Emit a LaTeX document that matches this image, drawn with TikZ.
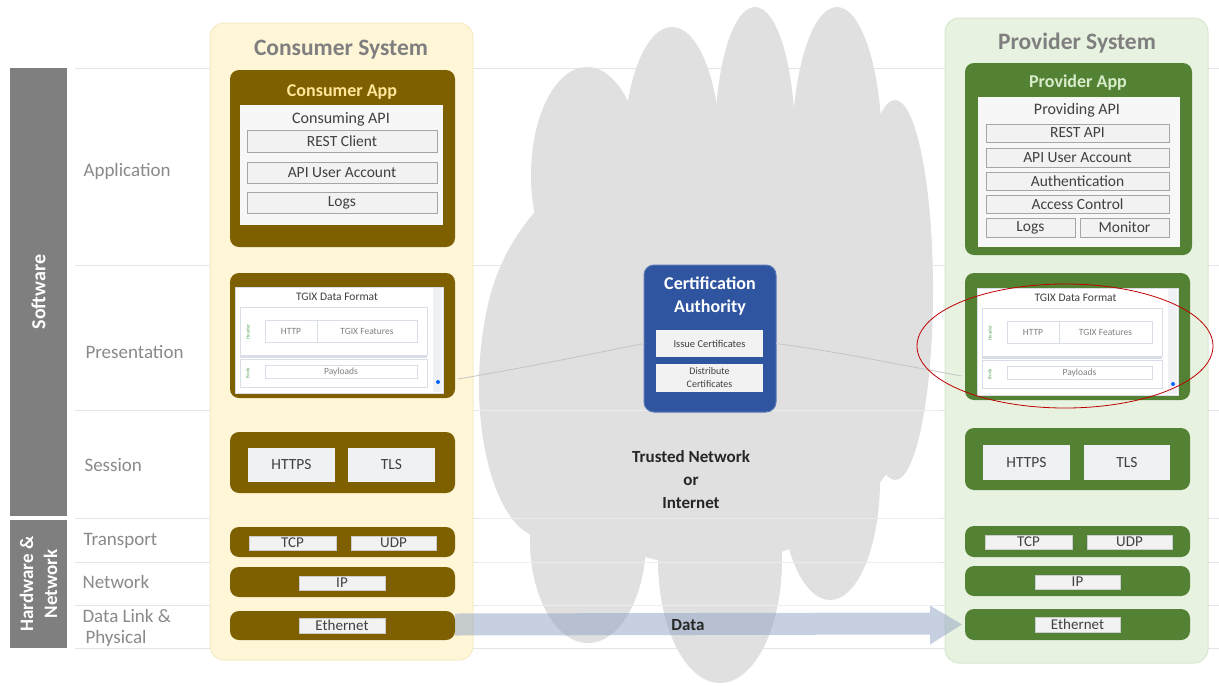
\documentclass[tikz,border=0pt]{standalone}
\usepackage{fontspec}
\setmainfont{Carlito}
\usetikzlibrary{calc}
\definecolor{cbrown}{HTML}{7F6000}
\definecolor{cgreen}{HTML}{548235}
\definecolor{cyellowbg}{HTML}{FFF6D8}
\definecolor{cyellowbd}{HTML}{F6EBC6}
\definecolor{cgreenbg}{HTML}{E8F2E0}
\definecolor{cgreenbd}{HTML}{DAE7D0}
\definecolor{cblue}{HTML}{2F55A0}
\definecolor{cgraybar}{HTML}{7F7F7F}
\definecolor{clabel}{HTML}{8A8A8A}
\definecolor{ctitle}{HTML}{7F7F7F}
\definecolor{cline}{HTML}{E2E6EB}
\definecolor{ccloud}{HTML}{E0E0E0}
\definecolor{cinner}{HTML}{F7F7F7}
\definecolor{citem}{HTML}{F2F2F2}
\definecolor{citemdraw}{HTML}{A6A6A6}
\definecolor{csess}{HTML}{EFF1F5}
\definecolor{carrow}{HTML}{8FA2C4}
\definecolor{ctitleY}{HTML}{FFE699}
\definecolor{ctitleG}{HTML}{D8EBCB}
\definecolor{ctext}{HTML}{404040}
\definecolor{cshot}{HTML}{D9DDE8}
\definecolor{cconn}{HTML}{C4C4C4}
\newcommand\fs[2]{\fontsize{#1}{#2}\selectfont}
% box from corners: name, style, x1, y1, x2, y2, text
\newcommand\bx[7]{\node[#2, inner sep=0pt, outer sep=0pt,
  minimum width={(#5-(#3))*1pt}, minimum height={(#6-(#4))*1pt}]
  (#1) at ({(#3+#5)/2},{(#4+#6)/2}) {#7};}
\tikzset{
  appC/.style={fill=cbrown, rounded corners=9pt},
  appP/.style={fill=cgreen, rounded corners=9pt},
  item/.style={fill=citem, draw=citemdraw, line width=0.7pt, text=ctext, font=\fs{15.5}{18}},
  sessitem/.style={fill=csess, text=ctext, font=\fs{15.5}{18}},
  netitem/.style={fill=citem, draw=white!80!black, line width=0.5pt, text=ctext, font=\fs{15}{16}},
  rowlabel/.style={anchor=west, text=clabel, font=\fs{19}{22}, align=left},
  systitle/.style={text=ctitle, font=\fs{23.5}{26}\bfseries},
  shotbox/.style={draw=cshot, line width=0.6pt, text=gray, font=\fs{9.5}{11}},
  conn/.style={draw=cconn, line width=0.8pt},
}
\newcommand\tgixshot[5]{%
\begin{scope}[shift={(#2,#3)}]
  \bx{#1shot}{fill=white, draw=cshot, line width=0.5pt}{0}{0}{#4}{#5}{}
  \fill[csess] (#4-10,1) rectangle (#4-1,#5-1);
  \fill[blue!60!cyan] (#4-5,#5-11) circle [radius=2];
  \node[text=ctext, font=\fs{11.5}{13}] (#1fmt) at (#4/2-2,10) {TGIX Data Format};
  \bx{#1hdr}{draw=cshot, line width=0.6pt}{5}{20}{#4-16}{68}{}
  \node[rotate=90, text=gray!70!green, font=\fs{5}{6}] (#1hdrl) at (13,45) {Header};
  \bx{#1http}{shotbox}{30}{33}{82}{55}{HTTP}
  \bx{#1feat}{shotbox}{82}{33}{#4-26}{55}{TGIX Features}
  \draw[cshot, line width=2pt] (5,70) -- (#4-16,70);
  \bx{#1body}{draw=cshot, line width=0.6pt}{5}{72}{#4-16}{100}{}
  \node[rotate=90, text=gray!70!green, font=\fs{5}{6}] (#1bodyl) at (13,86) {Body};
  \bx{#1pay}{shotbox}{30}{78}{#4-26}{91}{Payloads}
\end{scope}}
\begin{document}
\begin{tikzpicture}[x=1pt,y=-1pt]
\useasboundingbox[fill=white] (0,0) rectangle (1219,686);

% row lines (under the cloud)
\foreach \yy in {68,265,410,518,562,605,648}
  \draw[cline, line width=1pt] (75,\yy) -- (1219,\yy);

% cloud
\begin{scope}
  \fill[ccloud] (705,350) ellipse [x radius=222, y radius=215];
  \fill[ccloud] (587,175) ellipse [x radius=56, y radius=108];
  \fill[ccloud] (672,150) ellipse [x radius=48, y radius=123];
  \fill[ccloud] (755,140) ellipse [x radius=40, y radius=133];
  \fill[ccloud] (837,150) ellipse [x radius=45, y radius=143];
  \fill[ccloud] (895,290) ellipse [x radius=38, y radius=190];
  \fill[ccloud] (542,385) ellipse [x radius=63, y radius=152];
  \fill[ccloud] (588,540) ellipse [x radius=58, y radius=103];
  \fill[ccloud] (720,560) ellipse [x radius=62, y radius=123];
  \fill[ccloud] (830,480) ellipse [x radius=50, y radius=120];
\end{scope}

% row lines faintly over the cloud
\foreach \yy in {410,518,562,605}
  \draw[white, opacity=0.35, line width=1pt] (478,\yy) -- (940,\yy);

% left bars
\bx{swbar}{fill=cgraybar}{10}{68}{67}{516}{}
\node[rotate=90, text=white, font=\fs{20}{24}\bfseries] (swtext) at (swbar.center) {Software};
\bx{hwbar}{fill=cgraybar}{10}{520}{67}{648}{}
\node[rotate=90, text=white, font=\fs{19}{24}\bfseries, align=center] (hwtext) at (hwbar.center) {Hardware \&\\Network};

% row labels
\node[rowlabel] (lapp) at (80,171) {Application};
\node[rowlabel] (lpres) at (82,352) {Presentation};
\node[rowlabel] (lsess) at (81,465) {Session};
\node[rowlabel] (ltrans) at (80,541) {Transport};
\node[rowlabel] (lnet) at (79,582) {Network};
\node[rowlabel, font=\fs{19}{21}] (ldl) at (79,628) {Data Link \&\\\hspace{3pt}Physical};

% consumer system
\bx{cons}{fill=cyellowbg, draw=cyellowbd, line width=1pt, rounded corners=14pt}{210}{23}{473}{660}{}
\node[systitle] (constitle) at (341,50) {Consumer System};
\bx{capp}{appC}{230}{70}{455}{247}{}
\node[font=\fs{18}{20}\bfseries, text=ctitleY] (capptitle) at (342,92) {Consumer App};
\bx{capi}{fill=cinner}{240}{105}{443}{225}{}
\node[font=\fs{16}{18}, text=ctext] (capititle) at (341,119) {Consuming API};
\bx{crest}{item}{247}{130}{437}{152}{REST Client}
\bx{cuser}{item}{247}{162}{437}{183}{API User Account}
\bx{clogs}{item}{247}{192}{437}{213}{Logs}
\bx{cpres}{appC}{230}{273}{455}{398}{}
\tgixshot{c}{235}{287}{208}{106}
\bx{csess}{appC}{230}{432}{455}{493}{}
\bx{chttps}{sessitem}{248}{448}{335}{482}{HTTPS}
\bx{ctls}{sessitem}{348}{448}{435}{482}{TLS}
\bx{ctrans}{appC}{230}{527}{455}{557}{}
\bx{ctcp}{netitem}{249}{536}{336}{550}{TCP}
\bx{cudp}{netitem}{351}{536}{436}{550}{UDP}
\bx{cnet}{appC}{230}{567}{455}{597}{}
\bx{cip}{netitem}{299}{576}{385}{590}{IP}
\bx{cdl}{appC}{230}{611}{455}{640}{}
\bx{ceth}{netitem}{299}{618}{385}{633}{Ethernet}

% provider system
\bx{prov}{fill=cgreenbg, draw=cgreenbd, line width=1pt, rounded corners=14pt}{945}{18}{1208}{663}{}
\node[systitle] (provtitle) at (1077,43) {Provider System};
\bx{papp}{appP}{965}{63}{1192}{255}{}
\node[font=\fs{18}{20}\bfseries, text=ctitleG] (papptitle) at (1078,83) {Provider App};
\bx{papi}{fill=cinner}{978}{97}{1180}{247}{}
\node[font=\fs{16}{18}, text=ctext] (papititle) at (1077,110) {Providing API};
\bx{prest}{item}{986}{124}{1169}{142}{REST API}
\bx{puser}{item}{986}{148}{1169}{167}{API User Account}
\bx{pauth}{item}{986}{172}{1169}{190}{Authentication}
\bx{pacc}{item}{986}{195}{1169}{213}{Access Control}
\bx{plogs}{item}{986}{218}{1075}{237}{Logs}
\bx{pmon}{item}{1080}{218}{1169}{237}{Monitor}
\bx{ppres}{appP}{965}{273}{1190}{400}{}
\tgixshot{p}{977}{288}{201}{107}
\bx{psess}{appP}{965}{428}{1190}{490}{}
\bx{phttps}{sessitem}{983}{445}{1070}{480}{HTTPS}
\bx{ptls}{sessitem}{1084}{445}{1170}{480}{TLS}
\bx{ptrans}{appP}{965}{526}{1190}{557}{}
\bx{ptcp}{netitem}{985}{535}{1072}{549}{TCP}
\bx{pudp}{netitem}{1087}{535}{1172}{549}{UDP}
\bx{pnet}{appP}{965}{566}{1190}{596}{}
\bx{pip}{netitem}{1035}{575}{1120}{589}{IP}
\bx{pdl}{appP}{965}{609}{1190}{640}{}
\bx{peth}{netitem}{1035}{617}{1120}{632}{Ethernet}

% certification authority
\bx{ca}{fill=cblue, draw=cblue!80!white, line width=1pt, rounded corners=10pt}{644}{265}{776}{412}{}
\node[text=white, font=\fs{18}{23}\bfseries, align=center] (catitle) at (710,296) {Certification\\Authority};
\bx{caissue}{fill=white!95!black, text=ctext, font=\fs{10.5}{12}}{656}{330}{763}{357}{Issue Certificates}
\bx{cadist}{fill=white!95!black, text=ctext, font=\fs{10}{13}, align=center}{656}{364}{763}{392}{Distribute\\Certificates}

% connectors to CA
\coordinate (lA) at (458,379);
\coordinate (lB) at (962,376);
\draw[conn] (lA) .. controls (540,365) and (600,352) .. (ca.west |- caissue.west);
\draw[conn] (ca.east |- caissue.east) .. controls (840,352) and (900,365) .. (lB);

% trusted network text
\node[font=\fs{17}{23}\bfseries, text=black!85, align=center] (trusted) at (691,480) {Trusted Network\\or\\Internet};

% data arrow
\fill[carrow, opacity=0.5] ($(cdl.east)+(0,-12)$) -- ($(pdl.west)+(-35,-12)$) -- ($(pdl.west)+(-35,-19)$) -- ($(pdl.west)+(-3,0)$) -- ($(pdl.west)+(-35,20)$) -- ($(pdl.west)+(-35,10)$) -- ($(cdl.east)+(0,10)$) -- cycle;
\node[font=\fs{17}{20}\bfseries, text=black!85] (datalabel) at (688,625) {Data};

% highlight ellipse
\draw[red!75!black, line width=0.8pt] (1065,346) ellipse [x radius=148, y radius=62];
\end{tikzpicture}
\end{document}
